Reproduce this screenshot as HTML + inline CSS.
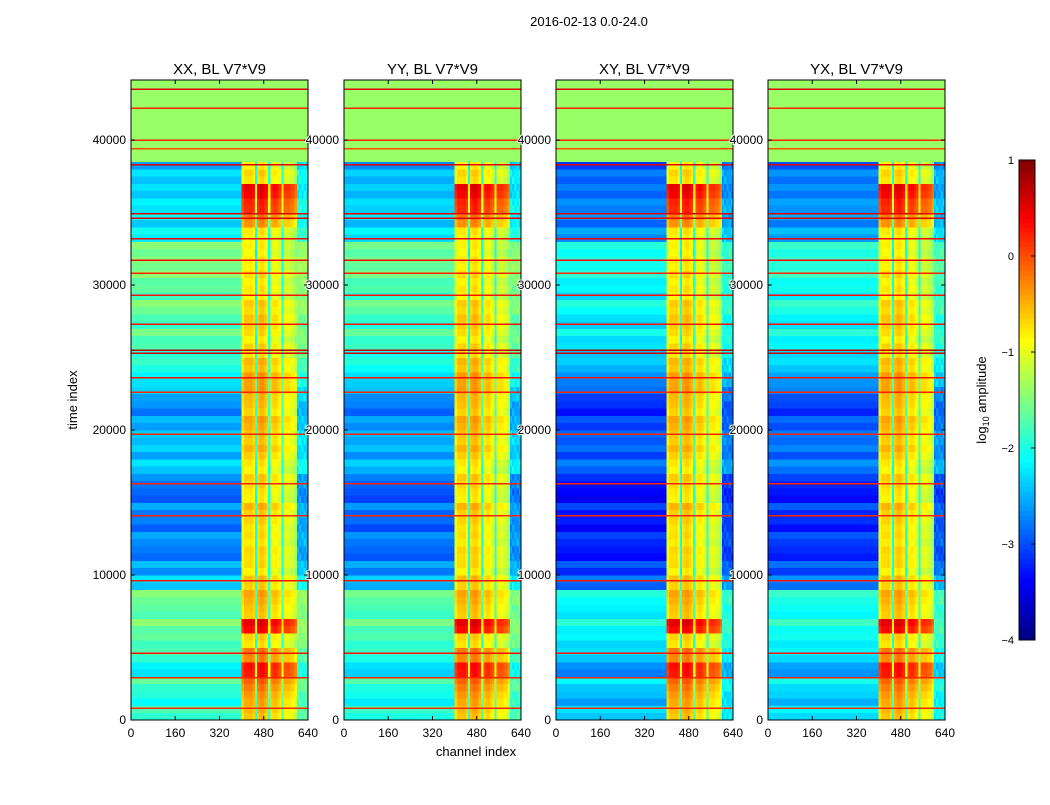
<!DOCTYPE html>
<html><head><meta charset="utf-8"><style>
body{margin:0;background:#fff;font-family:"Liberation Sans",sans-serif}
svg text{font-family:"Liberation Sans",sans-serif;fill:#000}
</style></head><body>
<svg id="fig" width="1050" height="800" xmlns="http://www.w3.org/2000/svg">
<rect width="1050" height="800" fill="#fff"/>
<text x="589" y="26" font-size="13" text-anchor="middle">2016-02-13 0.0-24.0</text>
<text x="77" y="400" font-size="13" text-anchor="middle" transform="rotate(-90 77 400)">time index</text>
<text x="476" y="756" font-size="13" text-anchor="middle">channel index</text>
<g id="panels"></g>
<g id="cbar"></g>
</svg>
<script>
const panelTitles=["XX, BL V7*V9","YY, BL V7*V9","XY, BL V7*V9","YX, BL V7*V9"];
const panelOffset=[0,-0.1,-0.5,-0.4];
const rowBg=[-1.9,-2.0,-1.8,-2.2,-1.9,-1.7,-1.6,-1.7,-1.6,-2.3,-2.6,-2.8,-2.7,-2.8,-2.7,-2.9,-2.8,-2.3,-2.5,-2.4,-2.6,-2.7,-2.5,-2.2,-2.0,-1.8,-1.7,-1.8,-1.6,-1.7,-1.6,-1.5,-1.6,-2.1,-2.3,-2.2,-2.4,-2.3,-2.5];
const rowHot=[-0.6,-0.4,-0.2,0.3,-0.3,-0.7,0.4,-0.6,-0.5,-0.6,-0.8,-0.7,-0.8,-0.7,-0.6,-0.8,-0.7,-0.8,-0.6,-0.6,-0.5,-0.6,-0.5,-0.4,-0.6,-0.7,-0.8,-0.6,-0.7,-0.8,-0.8,-0.8,-0.9,-0.8,-0.3,0.2,0.4,-0.7,-0.8];
const colHot=[-0.2,0,0,0,0.05,-0.1,-1.3,0,0.1,0.1,0,-0.1,-1.2,-0.2,-0.1,-0.1,-0.2,-0.3,-1.2,-0.3,-0.3,-0.3,-0.4,-0.4,-0.6,null,null,null,null,null];
const ripple=[0,0.25,-0.2,0.1,-0.15,0.3,-0.1,0.05];
const lineRows=[800,2900,4600,9600,14100,16300,19700,22600,23600,25300,25500,27300,29300,30800,31700,33200,34600,34900,38300,39400,40000,42200,43500];
const lineVals=[0.2,0.2,0.3,0.3,0.2,0.2,0.2,0.2,0.3,0.6,0.7,0.3,0.3,0.2,0.4,0.4,0.5,0.5,0.5,0.0,0.2,0.2,0.5];
const topStart=38500, topVal=-1.38, yMax=44140;
const xTicks=[0,160,320,480,640];
const yTicks=[0,10000,20000,30000,40000];
const cbTicks=[1,0,-1,-2,-3,-4];
const vmin=-4,vmax=1;
const panelX=[131,344,556,768], pw=177, yTopPx=80, yBotPx=720;
const NS="http://www.w3.org/2000/svg";
function jet(v){let t=Math.max(0,Math.min(1,(v-vmin)/(vmax-vmin)));const c=x=>Math.round(255*Math.max(0,Math.min(1,1.5-Math.abs(4*t-x))));return `rgb(${c(3)},${c(2)},${c(1)})`;}
function mk(tag,attrs,parent){const e=document.createElementNS(NS,tag);for(const k in attrs)e.setAttribute(k,attrs[k]);parent.appendChild(e);return e;}
const root=document.getElementById('panels');
const step=500;
panelTitles.forEach((title,p)=>{
  const x0=panelX[p];
  const xs=c=>x0+c/640*pw, ys=t=>yBotPx-t/yMax*(yBotPx-yTopPx);
  const g=mk('g',{},root);
  
  
  const hm=mk('g',{'shape-rendering':'crispEdges'},g);
  
  
  const segs=[[0,400,null]];
  colHot.forEach((h,i)=>segs.push([400+i*8,408+i*8,h]));
  for(let t=0;t<yMax;t+=step){
    const t1=Math.min(yMax,t+step);
    const r=Math.min(rowBg.length-1,Math.floor(t/1000));
    const k=Math.round(t/step);
    segs.forEach(([c0,c1,h],si)=>{
      let v;
      if(t>=topStart) v=topVal;
      else if(h===null){v=rowBg[r]+panelOffset[p]+ripple[(k+si)%8]*0.6+(c0>=600?0.2:0);}
      else v=rowHot[r]+h+ripple[k%8]*0.3;
      const rc=mk('rect',{x:xs(c0),y:ys(t1),width:xs(c1)-xs(c0)+0.3,height:ys(t)-ys(t1)+0.3,fill:jet(v)},hm);
      
      
    });
  }
  lineRows.forEach((t,i)=>{
    const l=mk('rect',{x:x0,y:ys(t+50),width:pw,height:ys(t-50)-ys(t+50),fill:jet(lineVals[i])},hm);
    
    
  });
  mk('rect',{x:x0,y:yTopPx,width:pw,height:yBotPx-yTopPx,fill:'none',stroke:'#000','stroke-width':1},g);
  const tt=mk('text',{x:x0+pw/2,y:74,'font-size':15,'text-anchor':'middle'},g);tt.textContent=title;
  
  
  xTicks.forEach(v=>{
    const x=xs(v);
    mk('line',{x1:x,x2:x,y1:yBotPx,y2:yBotPx-4,stroke:'#000'},g);
    mk('line',{x1:x,x2:x,y1:yTopPx,y2:yTopPx+4,stroke:'#000'},g);
    const tx=mk('text',{x:x,y:737,'font-size':12,'text-anchor':'middle'},g);tx.textContent=v;
    
    
  });
  yTicks.forEach(v=>{
    const y=ys(v);
    mk('line',{x1:x0,x2:x0+4,y1:y,y2:y,stroke:'#000'},g);
    mk('line',{x1:x0+pw,x2:x0+pw-4,y1:y,y2:y,stroke:'#000'},g);
  });
});
panelX.forEach((x0)=>{
  yTicks.forEach(v=>{
    const y=yBotPx-v/yMax*(yBotPx-yTopPx);
    const ty=mk('text',{x:x0-5,y:y+4,'font-size':12,'text-anchor':'end',stroke:'#fff','stroke-width':2,'paint-order':'stroke'},root);ty.textContent=v;
    
    
  });
});
const cb=document.getElementById('cbar');


const cx=1019,cw=16,ct=160,cbot=640;
for(let i=0;i<100;i++){const v=vmin+(i+0.5)/100*(vmax-vmin);const y=cbot-(i+1)*(cbot-ct)/100;mk('rect',{x:cx,y:y,width:cw,height:(cbot-ct)/100+0.5,fill:jet(v)},cb);}
mk('rect',{x:cx,y:ct,width:cw,height:cbot-ct,fill:'none',stroke:'#000'},cb);
cbTicks.forEach(v=>{const y=cbot-(v-vmin)/(vmax-vmin)*(cbot-ct);
  mk('line',{x1:cx+cw-4,x2:cx+cw,y1:y,y2:y,stroke:'#000'},cb);
  const t=mk('text',{x:cx-5,y:y+4,'font-size':11,'text-anchor':'end'},cb);t.textContent=v<0?'\u2212'+(-v):v;
  
  
});
const cl=mk('text',{x:986,y:400,'font-size':13,'text-anchor':'middle',transform:'rotate(-90 986 400)'},cb);
cl.innerHTML='log<tspan font-size="9" dy="3">10</tspan><tspan dy="-3"> amplitude</tspan>';


</script>
</body></html>
